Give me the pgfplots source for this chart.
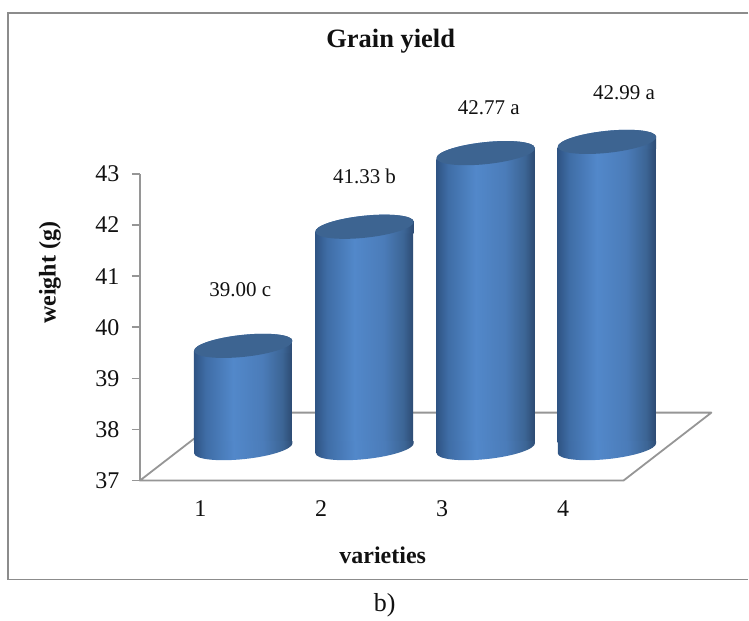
\documentclass[border=0pt]{standalone}
\usepackage{pgfplots}
\pgfplotsset{compat=1.18}
\usepackage{fontspec}
\setmainfont{Liberation Serif}
\definecolor{axgray}{HTML}{969696}
\definecolor{framegray}{HTML}{8C8C8C}
\definecolor{cyltopc}{HTML}{3D6491}
\definecolor{txt}{HTML}{111111}
\definecolor{cyla}{HTML}{2F5484}
\definecolor{cylb}{HTML}{3F6DA6}
\definecolor{cylc}{HTML}{5288CA}
\definecolor{cyld}{HTML}{4B7CB9}
\definecolor{cyle}{HTML}{3C6595}
\definecolor{cylf}{HTML}{2D4B73}
\pgfdeclarehorizontalshading{cyl}{100bp}{
  color(0bp)=(cyla);
  color(25bp)=(cyla);
  color(31bp)=(cylb);
  color(45bp)=(cylc);
  color(60bp)=(cyld);
  color(70bp)=(cyle);
  color(75bp)=(cylf);
  color(100bp)=(cylf)}
\pgfdeclareplotmark{cyltop}{%
  \begin{pgfscope}%
  \pgfpathmoveto{\pgfqpoint{-49.25pt}{-7pt}}%
  \pgfpathlineto{\pgfqpoint{-49.25pt}{-5.18pt}}%
  \pgfpatharcaxes{180}{0}{\pgfqpoint{49.25pt}{5.18pt}}{\pgfqpoint{-1.15pt}{10.94pt}}%
  \pgfpathlineto{\pgfqpoint{49.25pt}{-7pt}}%
  \pgfpathclose
  \pgfshadepath{cyl}{0}%
  \pgfusepath{discard}%
  \end{pgfscope}%
  \pgfsetfillcolor{cyltopc}%
  \pgfpathellipse{\pgfpointorigin}{\pgfqpoint{49.25pt}{5.18pt}}{\pgfqpoint{-1.15pt}{10.94pt}}%
  \pgfusepath{fill}}
\pgfdeclareplotmark{cylbot}{%
  \begin{pgfscope}%
  \pgfpathmoveto{\pgfqpoint{-49.25pt}{7pt}}%
  \pgfpathlineto{\pgfqpoint{-49.25pt}{-5.18pt}}%
  \pgfpatharcaxes{180}{360}{\pgfqpoint{49.25pt}{5.18pt}}{\pgfqpoint{-1.15pt}{10.94pt}}%
  \pgfpathlineto{\pgfqpoint{49.25pt}{7pt}}%
  \pgfpathclose
  \pgfshadepath{cyl}{0}%
  \pgfusepath{discard}%
  \end{pgfscope}}
\begin{document}
\begin{tikzpicture}[x=1pt,y=1pt]
\path[fill=white] (0,0) rectangle (749,617);
\draw[framegray,line width=1.3pt] (749,604) -- (8,604) -- (8,37) -- (749,37);
\node[font=\fontsize{26}{30}\selectfont,text=txt] at (385,11) {b)};
% floor
\draw[axgray,line width=1.8pt,line join=round] (140,136) -- (228,204) -- (712,204) -- (624,136) -- cycle;
\begin{axis}[
  at={(140pt,136pt)},anchor=south west,scale only axis,
  width=484pt,height=307pt,
  xmin=0.5,xmax=4.5,ymin=37,ymax=43,
  axis y line=left,axis x line=bottom,
  axis line style={axgray,line width=1.8pt,-},
  xtick={1,2,3,4},ytick={37,38,39,40,41,42,43},
  xtick style={draw=none},
  ytick style={axgray,line width=1.5pt},
  major tick length=8pt,tick align=outside,
  tick label style={font=\fontsize{24}{28}\selectfont,text=txt},
  /pgf/number format/assume math mode=true,
  xticklabel style={yshift=-9pt},
  yticklabel style={xshift=-9pt},
  title={Grain yield},
  title style={at={(axis description cs:0.5186,1.414)},anchor=center,font=\fontsize{26.5}{30}\bfseries,text=txt},
  xlabel={varieties},
  xlabel style={at={(axis description cs:0.5021,-0.244)},anchor=center,font=\fontsize{24}{28}\bfseries,text=txt},
  ylabel={weight (g)},
  ylabel style={at={(axis description cs:-0.186,0.6775)},anchor=center,font=\fontsize{24}{28}\bfseries,text=txt},
]
\addplot[draw=none,forget plot] coordinates {(1,37)};
\end{axis}
% cylinder bodies: square ends tucked 6 pt inside the elliptical caps
\begin{axis}[
  at={(182.43pt,174.5pt)},anchor=south west,scale only axis,
  width=485.33pt,height=295pt,
  xmin=0.5,xmax=4.5,ymin=37.2345,ymax=43,
  hide axis,clip=false,
]
\addplot[ybar,bar width=98pt,bar shift=0pt,draw=none,shade,shading=cyl,forget plot] coordinates {(1,39.00)};
\addplot[ybar,bar width=98pt,bar shift=0pt,draw=none,shade,shading=cyl,forget plot] coordinates {(2,41.33)};
\addplot[ybar,bar width=98pt,bar shift=0pt,draw=none,shade,shading=cyl,forget plot] coordinates {(3,42.77)};
\addplot[ybar,bar width=98pt,bar shift=0pt,draw=none,shade,shading=cyl,forget plot] coordinates {(4,42.99)};
\end{axis}
% caps and labels at the true value positions
\begin{axis}[
  at={(182.83pt,168.5pt)},anchor=south west,scale only axis,
  width=485.33pt,height=307pt,
  xmin=0.5,xmax=4.5,ymin=37,ymax=43,
  hide axis,clip=false,
]
\addplot[only marks,mark=cylbot,forget plot] coordinates {(1,37) (2,37) (3,37) (4,37)};
\addplot[only marks,mark=cyltop,forget plot] coordinates {(1,39.00) (2,41.33) (3,42.77) (4,42.99)};
\path[font=\fontsize{21}{25}\selectfont,text=txt]
  (axis cs:1,39.00) ++(-3pt,56pt) node {39.00 c}
  (axis cs:2,41.33) ++(0pt,50pt) node {41.33 b}
  (axis cs:3,42.77) ++(3pt,45pt) node {42.77 a}
  (axis cs:4,42.99) ++(17pt,49pt) node {42.99 a};
\end{axis}
\end{tikzpicture}
\end{document}
